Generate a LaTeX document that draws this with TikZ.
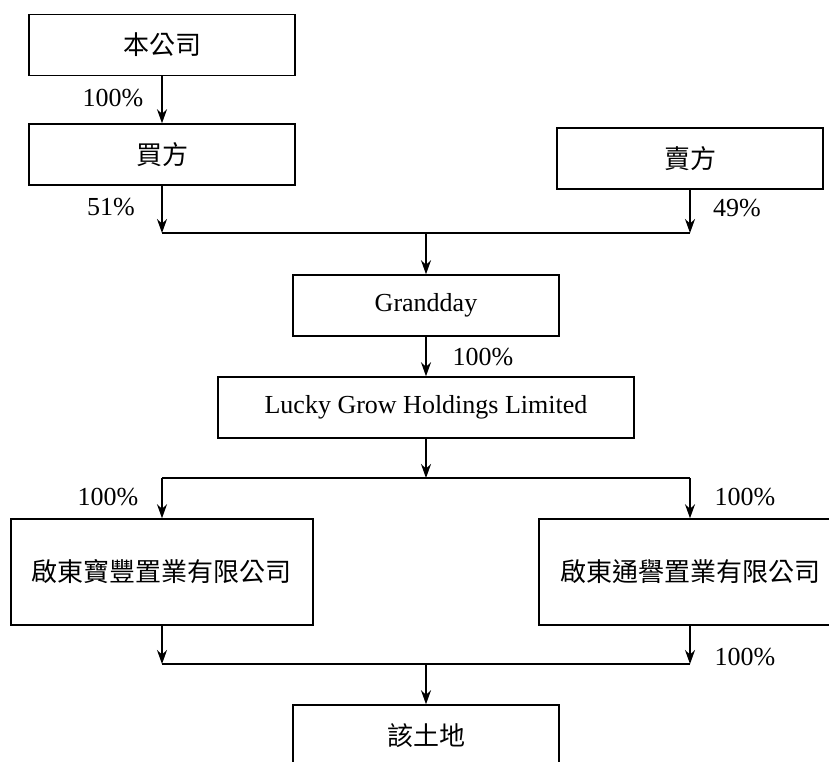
\documentclass[tikz,border=0pt]{standalone}
\usepackage{fontspec}
\setmainfont{Liberation Serif}
\newfontfamily\cjk{Noto Sans CJK TC}
\usetikzlibrary{arrows.meta, calc, positioning}
\tikzset{%
  every path/.style={line width=0.75pt},
    edge/.style={%
        ->,
        >={Stealth[length=7pt, width=5pt]},
    },
    company/.style={%
        rectangle,
        draw=black, line width=0.75pt,
        minimum width=133pt,
        minimum height=30.5pt,
        inner sep=0pt,
        font=\fontsize{13}{15}\selectfont,
        text centered,
    },
    bigcompany/.style={%
        company,
        minimum width=151pt,
        minimum height=53pt,
    },
    share/.style={%
        inner sep=0pt,
        font=\fontsize{13}{15}\selectfont,
    }
}
\begin{document}
\begin{tikzpicture}[x=0.5pt, y=-0.5pt]
  \useasboundingbox (0,0) rectangle (829,761);
  % \draw[help lines] (0,0) grid (829,761);

  \node [company] at (162,45) (ours) {\cjk 本公司};
  \node [company] at (162,154.5) (buyer) {\cjk 買方};
  \node [company] at (690,158.5) (seller) {\cjk 賣方};
  \node [company] at (426,305.5) (grandday) {Grandday};
  \node [company, minimum width=208pt] at (426,407.5) (lucky) {Lucky Grow Holdings Limited};
  \node [bigcompany] at (162,572) (qdbf) {\cjk 啟東寶豐置業有限公司};
  \node [bigcompany] at (690,572) (qdty) {\cjk 啟東通譽置業有限公司};
  \node [company] at (426,735.5) (land) {\cjk 該土地};

  \coordinate (join_top) at (426,233);
  \coordinate (split_mid) at (426,478);
  \coordinate (join_low) at (426,664);

  \draw[edge] (ours) -- (buyer);
  \draw[edge] (buyer) -- (buyer |- join_top);
  \draw[edge] (seller) -- (seller |- join_top);
  \draw (buyer |- join_top) -- (seller |- join_top);
  \draw[edge] (join_top) -- (grandday);
  \draw[edge] (grandday) -- (lucky);

  \draw[edge] (lucky) -- (split_mid);
  \draw (qdbf |- split_mid) -- (qdty |- split_mid);
  \draw[edge] (qdbf |- split_mid) -- (qdbf);
  \draw[edge] (qdty |- split_mid) -- (qdty);

  \draw[edge] (qdbf) -- (qdbf |- join_low);
  \draw[edge] (qdty) -- (qdty |- join_low);
  \draw (qdbf |- join_low) -- (qdty |- join_low);
  \draw[edge] (join_low) -- (land);

  \node [share] at (113,98) (ours_buyer) {100\%};
  \node [share] at (111,207) (buyer_share) {51\%};
  \node [share] at (737,208) (seller_share) {49\%};
  \node [share] at (483,357) (grandday_lucky) {100\%};
  \node [share] at (108,497) (lucky_qdbf) {100\%};
  \node [share] at (745,497) (lucky_qdty) {100\%};
  \node [share] at (745,657) (qdty_land) {100\%};
\end{tikzpicture}
\end{document}
